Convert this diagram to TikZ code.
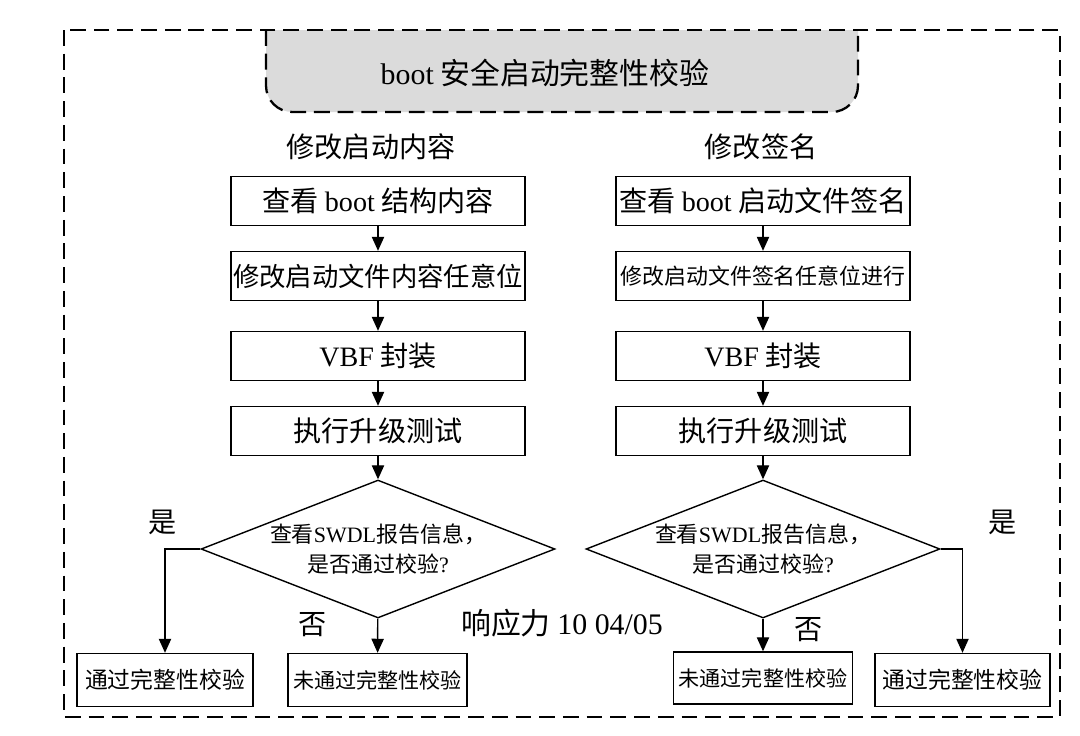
\documentclass[tikz,border=0pt]{standalone}
\usepackage{fontspec}
\setmainfont{Liberation Serif}
\newfontfamily\hei{Noto Sans CJK SC}
\usetikzlibrary{shapes.geometric,arrows.meta}
\newcommand\en[1]{{\rmfamily #1}}
\newcommand\fs[1]{\hei\fontsize{#1}{#1}\selectfont}

\begin{document}
\begin{tikzpicture}[x=0.02cm, y=-0.02cm,
      font=\fs{16},
      frame/.style={line width=1.3pt, dash pattern=on 9pt off 4.5pt},
      stepbox/.style={draw, line width=0.8pt, minimum width=5.88cm, minimum height=0.98cm, inner sep=1pt},
      endbox/.style={draw, line width=0.8pt, minimum height=1.06cm, inner sep=2pt},
      check/.style={draw, diamond, aspect=2.57, line width=0.8pt, minimum width=7.08cm, minimum height=2.76cm, inner sep=0pt, align=center, font=\hei\fontsize{12.5}{17}\selectfont},
      arr/.style={line width=0.8pt, -{Triangle[length=8pt,width=7pt]}}
      ]
      \useasboundingbox (0,0) rectangle (1080,735);
      \draw[frame, fill=gray!28, rounded corners=15pt] (266,30) -- (266,112) -- (858,112) -- (858,30);
      \draw[frame] (64,30) rectangle (1060,717);
      \node[font=\fs{17}] (title) at (545,73) {\en{boot} 安全启动完整性校验};

      \node (lhead) at (371,147) {修改启动内容};
      \node[stepbox] (l1) at (378,201) {查看 \en{boot} 结构内容};
      \node[stepbox, font=\fs{15}] (l2) at (378,276) {修改启动文件内容任意位};
      \node[stepbox] (l3) at (378,356) {\en{VBF} 封装};
      \node[stepbox] (l4) at (378,431) {执行升级测试};
      \node[check] (ld) at (378,549) {查看\en{SWDL}报告信息，\\是否通过校验\en{?}};
      \node[endbox, minimum width=3.52cm, font=\fs{13}] (lpass) at (165,680) {通过完整性校验};
      \node[endbox, minimum width=3.58cm, font=\fs{12}] (lfail) at (377.5,680) {未通过完整性校验};

      \node (rhead) at (761,147) {修改签名};
      \node[stepbox] (r1) at (763,201) {查看 \en{boot} 启动文件签名};
      \node[stepbox, font=\fs{12.5}] (r2) at (763,276) {修改启动文件签名任意位进行};
      \node[stepbox] (r3) at (763,356) {\en{VBF} 封装};
      \node[stepbox] (r4) at (763,431) {执行升级测试};
      \node[check] (rd) at (763,549) {查看\en{SWDL}报告信息，\\是否通过校验\en{?}};
      \node[endbox, minimum width=3.58cm, minimum height=1.04cm, font=\fs{12}] (rfail) at (763,678) {未通过完整性校验};
      \node[endbox, minimum width=3.5cm, font=\fs{13}] (rpass) at (962.5,680) {通过完整性校验};

      \node (lyes) at (163,522) {是};
      \node (lno) at (313,625) {否};
      \node[font=\fs{17}] (mark) at (562,623) {响应力 \en{10 04/05}};
      \node (rno) at (809,630) {否};
      \node (ryes) at (1003,522) {是};

      \foreach \a/\b in {l1/l2,l2/l3,l3/l4,l4/ld,ld/lfail,r1/r2,r2/r3,r3/r4,r4/rd,rd/rfail}
        \draw[arr] (\a) -- (\b);
      \draw[arr] (ld.west) -| (lpass.north);
      \draw[arr] (rd.east) -| (rpass.north);
    \end{tikzpicture}
\end{document}
